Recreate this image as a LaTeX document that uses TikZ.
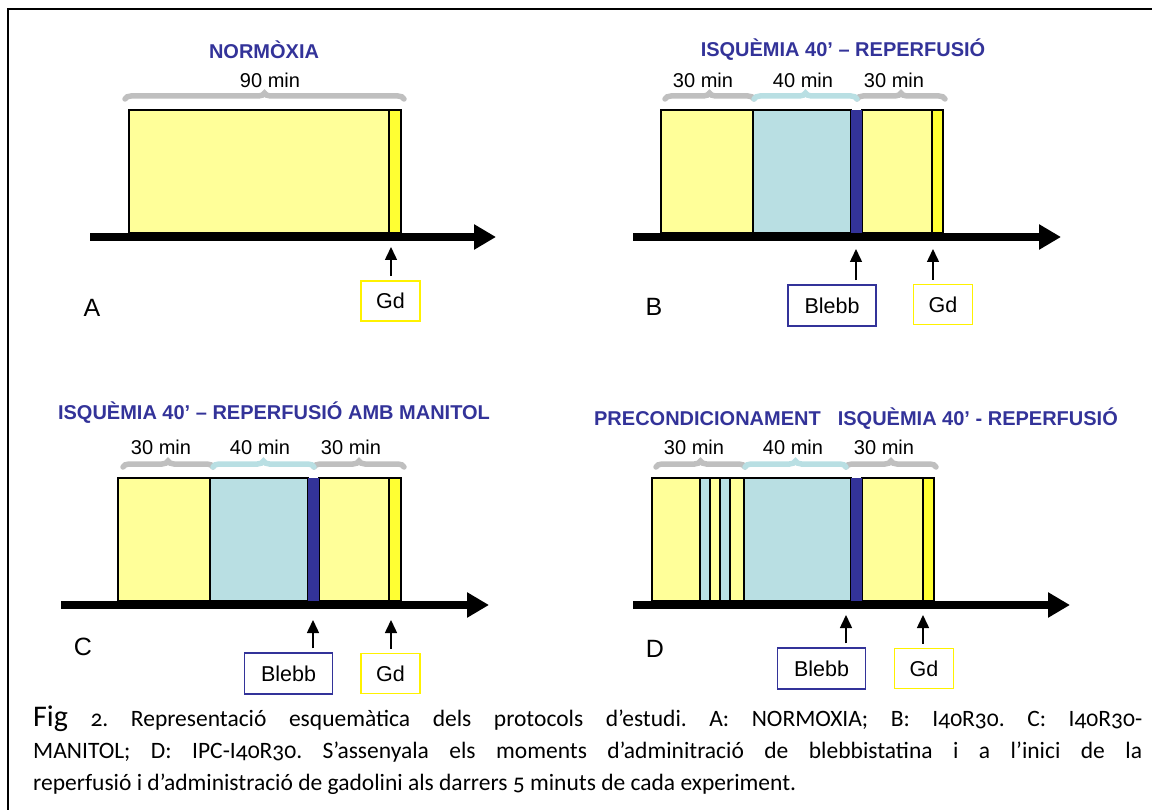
\documentclass[tikz,border=0pt]{standalone}
\usepackage{fontspec}
\setmainfont{Liberation Sans}
\newfontfamily\capfont[Numbers=OldStyle]{Carlito}
\usetikzlibrary{arrows.meta,decorations.pathreplacing}
\definecolor{pale}{HTML}{FFFF99}
\definecolor{gdyel}{HTML}{FFFF33}
\definecolor{isch}{HTML}{B9DFE3}
\definecolor{navy}{HTML}{333399}
\definecolor{brgray}{HTML}{BFBFBF}
\frenchspacing
\begin{document}
\begin{tikzpicture}[x=1pt,y=-1pt,
   title/.style={font=\fontsize{20}{24}\selectfont\bfseries,text=navy},
   dur/.style={font=\fontsize{20}{24}\selectfont},
   letter/.style={font=\fontsize{25}{30}\selectfont},
   seg/.style={draw=black,line width=1.3pt},
   brc/.style={decorate,decoration={brace,amplitude=6pt},line width=5.5pt,line cap=round},
   axis/.style={line width=8pt,-{Triangle[length=22pt,width=24pt]}},
   tick/.style={line width=1.5pt,-{Triangle[length=13pt,width=12pt]},shorten <=4pt},
   gdbox/.style={draw=yellow,line width=1.5pt,minimum width=59pt,minimum height=40pt,
      inner sep=0pt,font=\fontsize{21.5}{24}\selectfont},
   blbox/.style={gdbox,draw=navy,minimum width=88pt,minimum height=41pt},
   capt/.style={anchor=base west,inner sep=0pt,font=\capfont\fontsize{23.5}{30}\selectfont}]
   \useasboundingbox (0,0) rectangle (1152,810);
   \draw [line width=2.2pt] (8,810) -- (8,9) -- (1152,9);
   % A: normoxia
   \node [title] (tA) at (264,50) {NORMÒXIA};
   \node [dur] (dA) at (270,80) {90 min};
   \draw [brc,brgray] (125,99) -- (404,99);
   \draw [seg,fill=pale] (129,110) rectangle (389,233);
   \draw [seg,fill=gdyel] (389,110) rectangle (401,233);
   \draw [axis] (90,237) -- (496,237);
   \node [letter] (lA) at (92,308) {A};
   \node [gdbox] (gdA) at (390.5,301) {Gd};
   \coordinate (pA) at (391,247);
   \draw [tick] (gdA.north -| pA) -- (pA);
   % B: I40R30
   \node [title] (tB) at (843,50) {ISQUÈMIA 40’ – REPERFUSIÓ};
   \node [dur] (dB1) at (703,80) {30 min};
   \node [dur] (dB2) at (803,80) {40 min};
   \node [dur] (dB3) at (894,80) {30 min};
   \draw [brc,brgray] (665,99) -- (754,99);
   \draw [brc,brgray] (857,99) -- (945,99);
   \draw [brc,isch] (754,99) -- (857,99);
   \draw [seg,fill=pale] (661,110) rectangle (753,233);
   \draw [seg,fill=isch] (753,110) rectangle (851,233);
   \draw [seg,fill=pale] (862,110) rectangle (932,233);
   \draw [seg,fill=gdyel] (932,110) rectangle (943,233);
   \fill [navy] (851,110) rectangle (862,233);
   \draw [axis] (633,237) -- (1061,237);
   \node [letter] (lB) at (654,307) {B};
   \node [blbox] (blB) at (832,305.5) {Blebb};
   \node [gdbox] (gdB) at (943,304.5) {Gd};
   \coordinate (pB1) at (856,249);
   \coordinate (pB2) at (933,249);
   \draw [tick] (blB.north -| pB1) -- (pB1);
   \draw [tick] (gdB.north -| pB2) -- (pB2);
   % C: I40R30-manitol
   \node [title] (tC) at (274,413) {ISQUÈMIA 40’ – REPERFUSIÓ AMB MANITOL};
   \node [dur] (dC1) at (161,447) {30 min};
   \node [dur] (dC2) at (260,447) {40 min};
   \node [dur] (dC3) at (351,447) {30 min};
   \draw [brc,brgray] (123,467) -- (213,467);
   \draw [brc,brgray] (314,467) -- (404,467);
   \draw [brc,isch] (213,467) -- (314,467);
   \draw [seg,fill=pale] (118,478) rectangle (210,601);
   \draw [seg,fill=isch] (210,478) rectangle (308,601);
   \draw [seg,fill=pale] (319,478) rectangle (389,601);
   \draw [seg,fill=gdyel] (389,478) rectangle (401,601);
   \fill [navy] (308,478) rectangle (319,601);
   \draw [axis] (61,605) -- (489,605);
   \node [letter] (lC) at (83,647) {C};
   \node [blbox] (blC) at (288.5,673.5) {Blebb};
   \node [gdbox] (gdC) at (390.5,673.5) {Gd};
   \coordinate (pC1) at (313,620);
   \coordinate (pC2) at (391,620);
   \draw [tick] (blC.north -| pC1) -- (pC1);
   \draw [tick] (gdC.north -| pC2) -- (pC2);
   % D: IPC-I40R30
   \node [title] (tD) at (856,419) {PRECONDICIONAMENT\hspace{17pt}ISQUÈMIA 40’ - REPERFUSIÓ};
   \node [dur] (dD1) at (694,447) {30 min};
   \node [dur] (dD2) at (793,447) {40 min};
   \node [dur] (dD3) at (884,447) {30 min};
   \draw [brc,brgray] (656,467) -- (745,467);
   \draw [brc,brgray] (846,467) -- (936,467);
   \draw [brc,isch] (745,467) -- (846,467);
   \draw [seg,fill=pale] (652,478) rectangle (700,601);
   \draw [seg,fill=isch] (700,478) rectangle (710,601);
   \draw [seg,fill=pale] (710,478) rectangle (720,601);
   \draw [seg,fill=isch] (720,478) rectangle (730,601);
   \draw [seg,fill=pale] (730,478) rectangle (744,601);
   \draw [seg,fill=isch] (744,478) rectangle (851,601);
   \draw [seg,fill=pale] (862,478) rectangle (923,601);
   \draw [seg,fill=gdyel] (923,478) rectangle (934,601);
   \fill [navy] (851,478) rectangle (862,601);
   \draw [axis] (633,605) -- (1070,605);
   \node [letter] (lD) at (655,649) {D};
   \node [blbox] (blD) at (821.5,668.5) {Blebb};
   \node [gdbox] (gdD) at (924,668.5) {Gd};
   \coordinate (pD1) at (846,615);
   \coordinate (pD2) at (923,615);
   \draw [tick] (blD.north -| pD1) -- (pD1);
   \draw [tick] (gdD.north -| pD2) -- (pD2);
   % caption
   \node [capt] (cap1) at (33,726) {\makebox[1109pt][s]{{\fontsize{30}{30}\selectfont Fig} 2. Representació esquemàtica dels protocols d’estudi. A: NORMOXIA; B: I40R30. C: I40R30-}};
   \node [capt] (cap2) at (33,758) {\makebox[1109pt][s]{MANITOL; D: IPC-I40R30. S’assenyala els moments d’adminitració de blebbistatina i a l’inici de la}};
   \node [capt] (cap3) at (33,790) {reperfusió i d’administració de gadolini als darrers 5 minuts de cada experiment.};
\end{tikzpicture}
\end{document}
